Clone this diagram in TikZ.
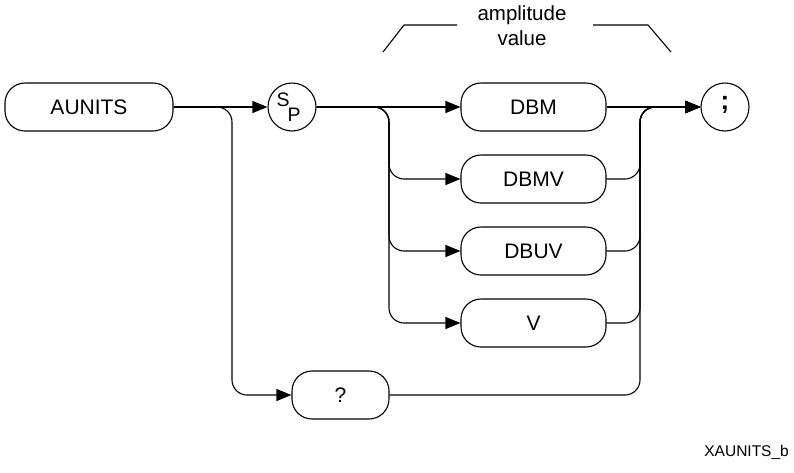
\documentclass[tikz,border=0pt]{standalone}
\usepackage{fontspec}
\setmainfont{Liberation Sans}
\usetikzlibrary{arrows.meta}
\begin{document}
\begin{tikzpicture}[x=1pt,y=-1pt,
  kw/.style={draw, line width=1.1pt, rounded corners=20pt, minimum height=48pt, inner sep=0pt, font=\fontsize{21}{24}\selectfont},
  circ/.style={draw, line width=1.1pt, circle, minimum size=48pt, inner sep=0pt},
  conn/.style={line width=1.1pt},
  arr/.style={line width=1.1pt, -{Triangle[length=15pt,width=12pt]}},
  rc/.style={rounded corners=15pt},
  lbl/.style={inner sep=0pt, font=\fontsize{20.5}{25}\selectfont, align=center}]
\useasboundingbox (0,0) rectangle (794,472);
% nodes
\node[kw, minimum width=168pt] (aunits) at (89,107) {AUNITS};
\node[circ] (sp) at (292,107) {};
\node[inner sep=0pt, font=\fontsize{19.5}{20}\selectfont] (spS) at (283,100) {S};
\node[inner sep=0pt, font=\fontsize{19.5}{20}\selectfont] (spP) at (294,115) {P};
\node[kw, minimum width=145pt] (dbm) at (533.5,107) {DBM};
\node[kw, minimum width=145pt] (dbmv) at (533.5,179) {DBMV};
\node[kw, minimum width=145pt] (dbuv) at (533.5,251) {DBUV};
\node[kw, minimum width=145pt] (v) at (533.5,323) {V};
\node[kw, minimum width=97pt] (q) at (340.5,395) {?};
\node[circ] (semi) at (725,107) {};
\node[inner sep=0pt, font=\fontsize{26}{26}\selectfont\bfseries] (semiT) at (725,105) {;};
\node[lbl] (amp) at (522,26) {amplitude\\value};
\node[inner sep=0pt, anchor=east, font=\fontsize{15.5}{18}\selectfont] (fig) at (789,452) {XAUNITS\_b};
% branch points
\coordinate (b1) at (232,107);
\coordinate (b2) at (389,107);
\coordinate (m) at (640,107);
% connectors
\draw[arr] (aunits.east) -- (sp.west);
\draw[arr, rc] (aunits.east) -- (b1) |- (q.west);
\draw[arr] (sp.east) -- (dbm.west);
\draw[arr, rc] (sp.east) -- (b2) |- (dbmv.west);
\draw[arr, rc] (sp.east) -- (b2) |- (dbuv.west);
\draw[arr, rc] (sp.east) -- (b2) |- (v.west);
\draw[arr] (dbm.east) -- (semi.west);
\draw[arr, rc] (dbmv.east) -| (m) -- (semi.west);
\draw[arr, rc] (dbuv.east) -| (m) -- (semi.west);
\draw[arr, rc] (v.east) -| (m) -- (semi.west);
\draw[arr, rc] (q.east) -| (m) -- (semi.west);
% bracket over the value group
\draw[conn] (383,52) -- (404,25) -- (457,25);
\draw[conn] (593,25) -- (648,25) -- (671,52);
\end{tikzpicture}
\end{document}
